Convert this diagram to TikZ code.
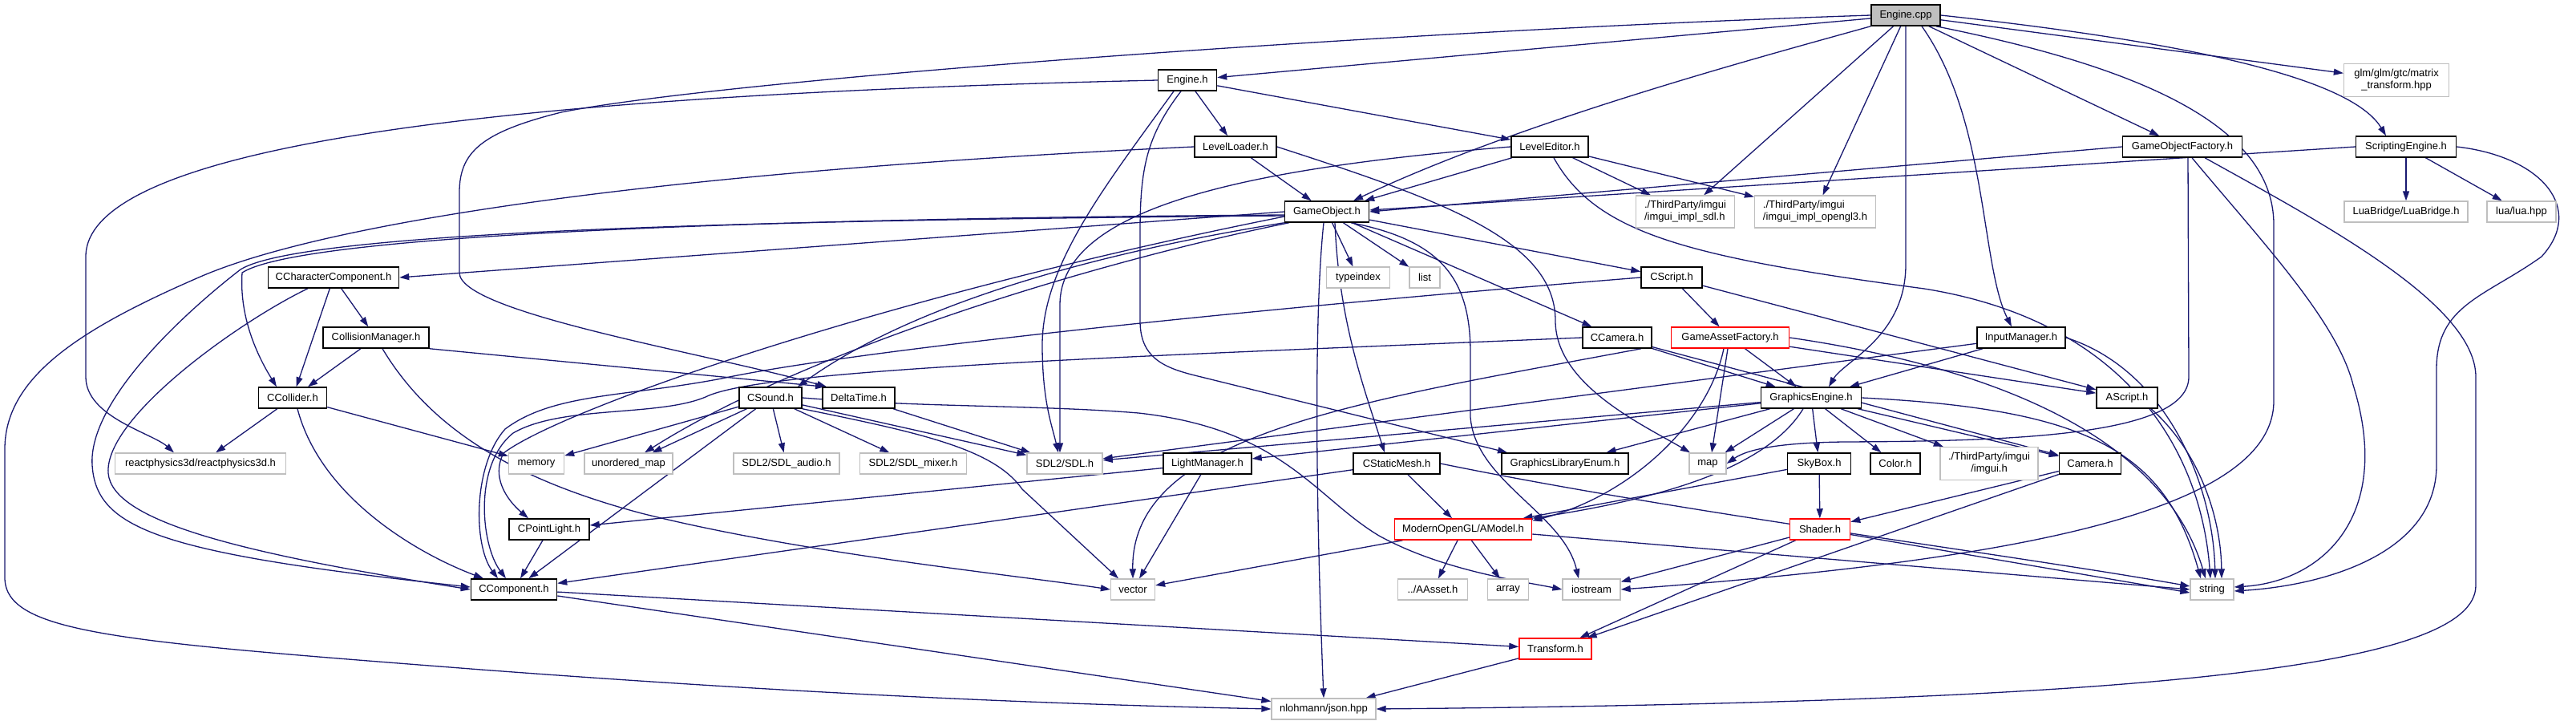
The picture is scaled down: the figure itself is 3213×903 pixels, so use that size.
\documentclass[tikz,border=0pt]{standalone}
\usepackage{fontspec}
\setmainfont{Liberation Sans}
\usetikzlibrary{arrows.meta}
\definecolor{edgeblue}{HTML}{191970}
\definecolor{extgray}{HTML}{BFBFBF}
\pgfdeclarelayer{bg}
\pgfdeclarelayer{paper}
\pgfsetlayers{paper,bg,main}
\begin{document}
\begin{tikzpicture}[x=1pt,y=-1pt,
  box/.style={rectangle, inner sep=0pt, minimum height=26pt, fill=white, font=\fontsize{13}{15}\selectfont, text=black},
  doc/.style={box, draw=black, line width=1.5pt},
  ext/.style={box, draw=extgray, line width=1.3pt},
  trunc/.style={box, draw=red, line width=1.5pt},
  root/.style={doc, fill=extgray},
  dep/.style={draw=edgeblue, line width=1.3pt, -{Triangle[length=12pt,width=8pt]}},
]
\begin{pgfonlayer}{paper}
\fill[white] (0,0) rectangle (3213,903);
\end{pgfonlayer}
\useasboundingbox (0,0) rectangle (3213,903);

% ---------- nodes ----------
\node[root, minimum width=86pt] (ecpp) at (2377,19) {Engine.cpp};
\node[ext, minimum width=131pt, minimum height=41pt, align=center] (glm) at (2989,100) {glm/glm/gtc/matrix\\\_transform.hpp};
\node[doc, minimum width=73pt] (engh) at (1481,100) {Engine.h};
\node[doc, minimum width=102pt] (ll) at (1541,183) {LevelLoader.h};
\node[doc, minimum width=96pt] (le) at (1933,183) {LevelEditor.h};
\node[doc, minimum width=149pt] (gof) at (2722,183) {GameObjectFactory.h};
\node[doc, minimum width=125pt] (se) at (3001,183) {ScriptingEngine.h};
\node[doc, minimum width=105pt] (go) at (1655,264) {GameObject.h};
\node[ext, minimum width=123pt, minimum height=40pt, align=left] (isdl) at (2102,264) {./ThirdParty/imgui\\/imgui\_impl\_sdl.h};
\node[ext, minimum width=151pt, minimum height=40pt, align=left] (igl) at (2264,264) {./ThirdParty/imgui\\/imgui\_impl\_opengl3.h};
\node[ext, minimum width=154pt] (lb) at (3001,264) {LuaBridge/LuaBridge.h};
\node[ext, minimum width=86pt] (lua) at (3145,264) {lua/lua.hpp};
\node[doc, minimum width=163pt] (cc) at (416,346) {CCharacterComponent.h};
\node[ext, minimum width=79pt] (ti) at (1694,346) {typeindex};
\node[ext, minimum width=38pt] (lst) at (1777,346) {list};
\node[doc, minimum width=76pt] (cs) at (2085,346) {CScript.h};
\node[doc, minimum width=132pt] (cm) at (469,421) {CollisionManager.h};
\node[doc, minimum width=86pt] (ccam) at (2017,421) {CCamera.h};
\node[trunc, minimum width=147pt] (gaf) at (2158,421) {GameAssetFactory.h};
\node[doc, minimum width=110pt] (im) at (2521,421) {InputManager.h};
\node[doc, minimum width=85pt] (ccol) at (365,496) {CCollider.h};
\node[doc, minimum width=78pt] (csnd) at (961,496) {CSound.h};
\node[doc, minimum width=90pt] (dt) at (1071,496) {DeltaTime.h};
\node[doc, minimum width=125pt] (ge) at (2259,496) {GraphicsEngine.h};
\node[doc, minimum width=76pt] (as) at (2653,496) {AScript.h};
\node[ext, minimum width=213pt] (rp) at (250,578) {reactphysics3d/reactphysics3d.h};
\node[ext, minimum width=69pt] (mem) at (669,578) {memory};
\node[ext, minimum width=110pt] (um) at (784,578) {unordered\_map};
\node[ext, minimum width=132pt] (sa) at (981,578) {SDL2/SDL\_audio.h};
\node[ext, minimum width=133pt] (sm) at (1139,578) {SDL2/SDL\_mixer.h};
\node[ext, minimum width=94pt] (sdl) at (1328,578) {SDL2/SDL.h};
\node[doc, minimum width=110pt] (lm) at (1506,578) {LightManager.h};
\node[doc, minimum width=108pt] (csm) at (1742,578) {CStaticMesh.h};
\node[doc, minimum width=158pt] (gle) at (1952,578) {GraphicsLibraryEnum.h};
\node[ext, minimum width=46pt] (map) at (2130,578) {map};
\node[doc, minimum width=79pt] (sky) at (2269,578) {SkyBox.h};
\node[doc, minimum width=62pt] (col) at (2364,578) {Color.h};
\node[ext, minimum width=122pt, minimum height=41pt, align=center] (ig) at (2481,578) {./ThirdParty/imgui\\/imgui.h};
\node[doc, minimum width=77pt] (cam) at (2607,578) {Camera.h};
\node[doc, minimum width=100pt] (cpl) at (685,660) {CPointLight.h};
\node[trunc, minimum width=171pt] (am) at (1825,660) {ModernOpenGL/AModel.h};
\node[trunc, minimum width=75pt] (sh) at (2270,660) {Shader.h};
\node[doc, minimum width=107pt] (ccomp) at (641,735) {CComponent.h};
\node[ext, minimum width=55pt] (vec) at (1413,735) {vector};
\node[ext, minimum width=87pt] (aa) at (1787,735) {../AAsset.h};
\node[ext, minimum width=51pt] (arr) at (1881,735) {array};
\node[ext, minimum width=72pt] (ios) at (1985,735) {iostream};
\node[ext, minimum width=54pt] (str) at (2759,735) {string};
\node[trunc, minimum width=90pt] (tr) at (1940,809) {Transform.h};
\node[ext, minimum width=130pt] (json) at (1651,884) {nlohmann/json.hpp};

% ---------- edges ----------
\begin{pgfonlayer}{bg}
% Engine.cpp
\draw[dep] (ecpp) -- (engh);
\draw[dep] (ecpp) -- (glm);
\draw[dep] (ecpp.south west) .. controls (2200,70) and (1900,150) .. ([xshift=33pt]go.north);
\draw[dep] (ecpp) -- (isdl);
\draw[dep] (ecpp) -- (igl);
\draw[dep] (ecpp) -- (gof);
\draw[dep] (ecpp.east) .. controls (2800,60) and (2940,110) .. ([xshift=-25pt]se.north);
\draw[dep] ([xshift=20pt]ecpp.south) .. controls (2480,150) and (2470,330) .. ([xshift=-12pt]im.north);
\draw[dep] (ecpp.south) -- (2377,330) .. controls (2377,420) and (2300,450) .. ([xshift=22pt]ge.north);
\draw[dep] (ecpp.-20) .. controls (2650,80) and (2836,150) .. (2836,280) -- (2836,500) .. controls (2836,640) and (2500,700) .. (ios.east);
\draw[dep] (ecpp.west) .. controls (1700,40) and (900,100) .. (700,140) .. controls (600,165) and (573,190) .. (573,240) -- (573,340) .. controls (573,390) and (880,440) .. ([xshift=-40pt]dt.north);
% Engine.h
\draw[dep] (engh) -- (ll);
\draw[dep] (engh) -- (le);
\draw[dep] (engh.west) .. controls (800,115) and (107,160) .. (107,320) -- (107,470) .. controls (107,520) and (190,540) .. ([xshift=-33pt]rp.north);
\draw[dep] ([xshift=-17pt]engh.south) .. controls (1380,230) and (1300,330) .. (1300,430) .. controls (1300,500) and (1312,530) .. ([xshift=-8pt]sdl.north);
\draw[dep] ([xshift=-8pt]engh.south) .. controls (1430,170) and (1422,210) .. (1422,290) -- (1422,400) .. controls (1422,445) and (1450,458) .. (1490,468) -- ([xshift=-72pt]gle.north);
% LevelLoader.h
\draw[dep] (ll) -- (go);
\draw[dep] (ll.west) .. controls (800,215) and (400,280) .. (250,345) .. controls (100,410) and (6,470) .. (6,560) -- (6,720) .. controls (6,790) and (150,800) .. (600,835) .. controls (1000,865) and (1300,878) .. (json.west);
\draw[dep] (ll.east) .. controls (1800,250) and (1940,300) .. (1940,400) .. controls (1940,480) and (2050,530) .. ([xshift=-22pt]map.north);
% LevelEditor.h
\draw[dep] (le) -- (go);
\draw[dep] (le.west) .. controls (1550,210) and (1322,260) .. (1322,380) -- ([xshift=-6pt]sdl.north);
\draw[dep] (le) -- (isdl);
\draw[dep] (le) -- (igl);
\draw[dep] ([xshift=5pt]le.south) .. controls (1990,290) and (2100,320) .. (2400,360) .. controls (2650,400) and (2745,560) .. ([xshift=-2pt]str.north);
% GameObjectFactory.h
\draw[dep] (gof.west) -- (go.east);
\draw[dep] ([xshift=7pt]gof.south) -- (2730,470) .. controls (2730,545) and (2500,550) .. (2300,551) .. controls (2220,552) and (2180,560) .. (map.east);
\draw[dep] ([xshift=12pt]gof.south) .. controls (2820,300) and (2915,400) .. (2935,480) .. controls (2985,640) and (2900,725) .. ([yshift=3pt]str.east);
\draw[dep] ([xshift=28pt]gof.south) .. controls (2900,280) and (3088,380) .. (3088,470) -- (3088,730) .. controls (3088,830) and (2700,875) .. (json.east);
% ScriptingEngine.h
\draw[dep] (se.west) -- ([yshift=2pt]go.east);
\draw[dep] (se) -- (lb);
\draw[dep] (se) -- (lua);
\draw[dep] (se.east) .. controls (3170,195) and (3225,260) .. (3170,320) .. controls (3100,370) and (3039,380) .. (3039,460) -- (3039,580) .. controls (3039,690) and (2900,730) .. ([yshift=-2pt]str.east);
% GameObject.h
\draw[dep] (go.west) -- (cc.east);
\draw[dep] ([yshift=-4pt]go.west) .. controls (1000,272) and (380,290) .. (302,340) .. controls (298,400) and (325,450) .. ([xshift=-20pt]ccol.north);
\draw[dep] ([yshift=-5pt]go.west) .. controls (1000,274) and (380,286) .. (300,336) .. controls (230,390) and (110,500) .. (115,580) .. controls (120,660) and (200,690) .. ([yshift=3pt]ccomp.west);
\draw[dep] (go.south west) .. controls (1400,310) and (1150,370) .. ([xshift=34pt]csnd.north);
\draw[dep] ([yshift=-6pt]go.west) .. controls (1100,370) and (700,510) .. (628,565) .. controls (610,600) and (640,630) .. ([xshift=-26pt]cpl.north);
\draw[dep] ([xshift=6pt]go.south west) .. controls (1350,330) and (1000,440) .. ([xshift=20pt]um.north);
\draw[dep] (go) -- (cs);
\draw[dep] (go) -- (ccam);
\draw[dep] ([xshift=10pt]go.south) .. controls (1670,400) and (1700,480) .. ([xshift=-15pt]csm.north);
\draw[dep] ([xshift=-4pt]go.south) .. controls (1638,400) and (1642,650) .. (json.north);
\draw[dep] (go) -- (ti);
\draw[dep] (go) -- (lst);
\draw[dep] ([xshift=30pt]go.south) .. controls (1800,300) and (1834,350) .. (1834,440) -- (1834,520) .. controls (1840,600) and (1950,640) .. ([xshift=-16pt]ios.north);
% CCharacterComponent.h
\draw[dep] (cc) -- (cm);
\draw[dep] (cc) -- (ccol);
\draw[dep] ([xshift=-32pt]cc.south) .. controls (300,400) and (130,520) .. (135,590) .. controls (140,650) and (300,690) .. (ccomp.west);
% CollisionManager.h
\draw[dep] (cm) -- (ccol);
\draw[dep] (cm.south east) -- ([xshift=-42pt]dt.north);
\draw[dep] ([xshift=8pt]cm.south) .. controls (540,540) and (650,600) .. (800,640) .. controls (1000,690) and (1250,715) .. (vec.west);
% CCollider.h
\draw[dep] (ccol) -- (rp);
\draw[dep] (ccol) -- (mem);
\draw[dep] ([xshift=6pt]ccol.south) .. controls (400,620) and (520,690) .. ([xshift=-38pt]ccomp.north);
% CSound.h
\draw[dep] (csnd) -- (mem);
\draw[dep] (csnd) -- (um);
\draw[dep] (csnd) -- (sa);
\draw[dep] (csnd) -- (sm);
\draw[dep] (csnd) -- (sdl);
\draw[dep] (csnd.south east) .. controls (1150,540) and (1240,560) .. (1275,610) -- ([xshift=-18pt]vec.north);
\draw[dep] (csnd) -- (ccomp);
\draw[dep] (csnd.east) .. controls (1150,508) and (1300,505) .. (1420,515) .. controls (1600,535) and (1640,620) .. (1720,668) .. controls (1800,712) and (1900,725) .. (ios.west);
% DeltaTime.h, CPointLight.h, LightManager.h
\draw[dep] (dt) -- (sdl);
\draw[dep] (cpl) -- (ccomp);
\draw[dep] (lm) -- (cpl);
\draw[dep] (lm) -- (vec);
% CStaticMesh.h
\draw[dep] (csm) -- (am);
\draw[dep] (csm) -- (ccomp);
\draw[dep] (csm.east) .. controls (2100,640) and (2500,690) .. ([yshift=4pt]str.west);
% AModel
\draw[dep] (am) -- (vec);
\draw[dep] (am) -- (aa);
\draw[dep] (am) -- (arr);
\draw[dep] ([yshift=-6pt]am.east) -- (str.west);
% Shader, Camera, SkyBox
\draw[dep] (sh) -- ([yshift=-4pt]str.west);
\draw[dep] (sh) -- (ios);
\draw[dep] (sh) -- (tr);
\draw[dep] (cam) -- (sh);
\draw[dep] (cam) -- (tr);
\draw[dep] (sky) -- (sh);
\draw[dep] (sky) -- (am);
% GraphicsEngine.h
\draw[dep] (ge) -- (sdl);
\draw[dep] (ge) -- (lm);
\draw[dep] (ge) -- (gle);
\draw[dep] (ge) -- (map);
\draw[dep] ([xshift=-10pt]ge.south) .. controls (2200,590) and (2050,625) .. (am.north east);
\draw[dep] (ge) -- (sky);
\draw[dep] (ge) -- (col);
\draw[dep] (ge) -- (ig);
\draw[dep] (ge) -- (cam);
\draw[dep] (ge.east) .. controls (2600,510) and (2700,560) .. ([xshift=-14pt]str.north);
% GameAssetFactory.h
\draw[dep] (gaf) -- (ge);
\draw[dep] ([xshift=-3pt]gaf.south) -- ([xshift=5pt]map.north);
\draw[dep] ([xshift=-8pt]gaf.south) .. controls (2130,530) and (2030,620) .. ([yshift=-3pt]am.north east);
\draw[dep] (gaf) -- (as);
\draw[dep] (gaf.east) .. controls (2500,460) and (2700,550) .. ([xshift=-8pt]str.north);
% CCamera.h
\draw[dep] (ccam.west) .. controls (1400,445) and (950,460) .. (880,495) .. controls (820,520) and (700,505) .. (640,540) .. controls (590,580) and (600,680) .. ([xshift=-10pt]ccomp.north);
\draw[dep] (ccam) -- (ge);
\draw[dep] (ccam) -- (cam);
\draw[dep] ([xshift=30pt]ccam.south) .. controls (1700,500) and (1410,540) .. (vec.north);
% CScript.h
\draw[dep] (cs) -- (gaf);
\draw[dep] (cs) -- (as);
\draw[dep] (cs.west) .. controls (1500,390) and (1050,440) .. (900,472) .. controls (780,495) and (690,490) .. (630,535) .. controls (590,580) and (590,680) .. ([xshift=-20pt]ccomp.north);
% InputManager.h, AScript.h
\draw[dep] (im) -- (ge);
\draw[dep] (im) -- (sdl);
\draw[dep] (im.east) .. controls (2700,460) and (2760,600) .. ([xshift=4pt]str.north);
\draw[dep] ([xshift=30pt]as.south) .. controls (2740,560) and (2770,640) .. ([xshift=12pt]str.north);
% CComponent.h, Transform.h
\draw[dep] (ccomp) -- (tr);
\draw[dep] (ccomp) -- (json);
\draw[dep] (tr) -- (json);
\end{pgfonlayer}
\end{tikzpicture}
\end{document}
